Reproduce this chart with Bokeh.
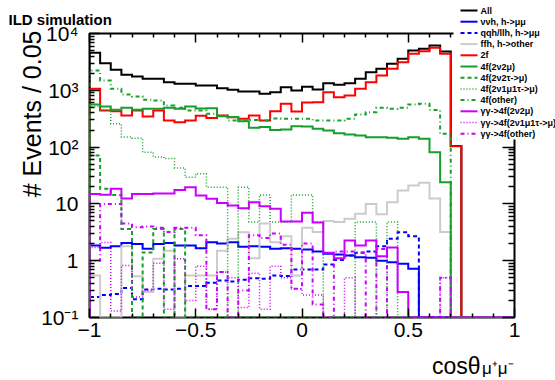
import numpy as np
from bokeh.plotting import figure
from bokeh.models import (FixedTicker, LinearAxis, LogAxis, Range1d, LinearScale)
from bokeh.core.properties import value
from bokeh.embed import file_html
from bokeh.resources import INLINE

# ---------------- data (events per 0.05 bin, 40 bins from -1 to 1) ----------------
x_lo, x_hi, n_bins = -1.0, 1.0, 40

all_ev = [4570, 3000, 2300, 1875, 1750, 1590, 1590, 1390, 1300, 1300,
          1215, 1215, 1090, 1020, 953, 953, 868, 926, 1135, 990,
          1150, 1033, 1333, 1250, 1333, 1590, 2085, 2390, 2930, 3590,
          5020, 5380, 6150, 4820, 105, 0, 0, 0, 0, 0]
nnh_mumu = [1.85, 1.69, 1.8, 2.04, 1.96, 1.62, 1.96, 2.04, 1.85, 1.85,
            1.66, 2.12, 2.0, 2.12, 1.76, 1.8, 1.76, 1.62, 1.66, 1.62,
            1.57, 1.45, 1.32, 1.28, 1.24, 1.15, 1.13, 1.0, 0.94, 0.88,
            0.72, 0, 0, 0, 0, 0, 0, 0, 0, 0]
qqh_llh_mumu = [0.23, 0.25, 0.26, 0.33, 0.21, 0.31, 0.32, 0.31, 0.32, 0.36,
                0.36, 0.41, 0.45, 0.43, 0.46, 0.49, 0.48, 0.55, 0.54, 0.70,
                0.70, 0.70, 0.86, 1.03, 1.23, 1.38, 1.45, 1.8, 2.43, 3.18,
                2.7, 0, 0, 0, 0, 0, 0, 0, 0, 0]
ffh_other = [0.55, 0, 0, 1.8, 0.53, 0.28, 1.08, 1.5, 0, 0.55,
             0.55, 0.55, 1.5, 2.43, 3.18, 1.1, 4.5, 2.12, 2.7, 0.55,
             3.8, 3.2, 5.0, 4.8, 5.5, 6.7, 10.0, 6.6, 10.7, 17.2,
             21.0, 23.5, 12.5, 3.2, 0, 0, 0, 0, 0, 0]
two_f = [1062, 441, 428, 360, 441, 346, 441, 294, 274, 294,
         355, 326, 360, 336, 315, 360, 294, 426, 580, 424,
         610, 617, 926, 757, 810, 1062, 1390, 1824, 2390, 3130,
         4400, 4880, 5600, 4400, 104, 0, 0, 0, 0, 0]
f4_2n2mu = [562, 519, 454, 492, 454, 472, 472, 492, 472, 519,
            480, 485, 350, 340, 285, 220, 225, 200, 205, 232,
            231, 210, 196, 176, 167, 160, 149, 149, 146, 140,
            149, 140, 81, 24, 0, 0, 0, 0, 0, 0]
f4_2n2tau = [71, 18.4, 14.4, 3.6, 0, 1.4, 3.6, 0, 3.6, 0,
             0, 0, 0, 0, 0, 0, 0, 0, 0, 0,
             0, 0, 0, 0, 0, 0, 0, 0, 0, 0,
             0, 0, 0, 0, 0, 0, 0, 0, 0, 0]
f4_2n1mu1tau = [520, 450, 257, 150, 143, 81, 67, 63, 43, 29.5,
                34, 19.7, 19.7, 0, 19.7, 4.8, 14.4, 4.8, 4.8, 14.4,
                14.4, 4.8, 0, 0, 0, 4.8, 4.8, 0, 4.8, 0,
                0, 0, 0, 0, 0, 0, 0, 0, 0, 0]
f4_other = [2230, 1490, 1062, 843, 778, 679, 661, 540, 491, 441,
            441, 385, 360, 294, 294, 300, 294, 320, 315, 315,
            315, 294, 294, 294, 315, 375, 412, 491, 472, 491,
            560, 578, 450, 171, 0, 0, 0, 0, 0, 0]
gg_2n2mu = [15.0, 14.5, 18.4, 12.5, 15.0, 15.0, 15.2, 15.2, 17.5, 19.7,
            14.1, 12.3, 10.4, 9.4, 8.4, 10.7, 9.1, 8.2, 4.9, 4.9,
            7.0, 4.7, 1.38, 1.1, 2.27, 1.85, 2.27, 1.2, 1.7, 0.28,
            0, 0, 0, 0, 0, 0, 0, 0, 0, 0]
gg_2n1mu1tau = [1.7, 2.1, 0.13, 0.82, 0.23, 0.3, 0.9, 0.14, 1.08, 0.2,
                0.8, 0.14, 0.63, 0.5, 0.15, 0.6, 0.14, 0.8, 0.5, 0.32,
                0.25, 0.25, 0, 0, 0.5, 0, 0, 0, 0, 0,
                0, 0, 0, 0.5, 0, 0, 0, 0, 0, 0]
gg_other = [1.0, 10, 10, 4.5, 3.9, 4.0, 3.8, 3.2, 3.8, 3.8,
            2.8, 0.14, 0.63, 0, 0.3, 2.8, 2.5, 3.0, 1.9, 0.32,
            2.0, 0.17, 0, 1.45, 1.45, 1.4, 0, 1.6, 0, 0,
            0, 0, 0, 0.5, 0, 0, 0, 0, 0, 0]

series_labels = ["All", "ννh, h->μμ", "qqh/llh, h->μμ", "ffh, h->other", "2f",
                 "4f(2ν2μ)", "4f(2ν2τ->μ)", "4f(2ν1μ1τ->μ)", "4f(other)",
                 "γγ->4f(2ν2μ)", "γγ->4f(2ν1μ1τ->μ)", "γγ->4f(other)"]

x_major = [-1, -0.5, 0, 0.5, 1]
x_major_labels = ["−1", "−0.5", "0", "0.5", "1"]
y_major = [0.1, 1, 10, 100, 1000, 10000]
y_major_labels = ["10⁻¹", "1", "10", "10²", "10³", "10⁴"]

# ---------------- styling ----------------
BLACK, BLUE, GREY, RED = "#000000", "#0000ff", "#cccccc", "#ff0000"
GREEN, VIOLET = "#14a02a", "#cc00ff"
FONT = "Liberation Sans"

styles = [
    (all_ev, BLACK, "solid", 2),
    (nnh_mumu, BLUE, "solid", 2),
    (qqh_llh_mumu, BLUE, "4 3", 2),
    (ffh_other, GREY, "solid", 2),
    (two_f, RED, "solid", 2),
    (f4_2n2mu, GREEN, "solid", 2),
    (f4_2n2tau, GREEN, "4 3", 2),
    (f4_2n1mu1tau, GREEN, "1 2", 1.5),
    (f4_other, GREEN, "4 3 1 3", 2),
    (gg_2n2mu, VIOLET, "solid", 2),
    (gg_2n1mu1tau, VIOLET, "1 2", 1.5),
    (gg_other, VIOLET, "4 3 1 3", 2),
]

y_lo, y_hi = 0.1, 1e4
edges = np.linspace(x_lo, x_hi, n_bins + 1)

# canvas layout of the frame (pixels)
FL, FR, FT, FB = 89, 514, 33, 317
W, H = 555, 380

p = figure(width=W, height=H, x_range=Range1d(x_lo, x_hi),
           y_range=Range1d(y_lo, y_hi), y_axis_type="log",
           output_backend="svg", toolbar_location=None,
           min_border_left=FL, min_border_right=W - FR,
           min_border_top=FT, min_border_bottom=H - FB)
# pixel coordinate system for texts and legend (same as canvas pixels)
p.extra_x_ranges = {"px": Range1d(FL, FR)}
p.extra_y_ranges = {"px": Range1d(FB, FT)}
p.extra_x_scales = {"px": LinearScale()}
p.extra_y_scales = {"px": LinearScale()}

p.xgrid.visible = False
p.ygrid.visible = False
p.outline_line_color = "black"
p.outline_line_width = 2
p.background_fill_color = "white"
p.border_fill_color = "white"


def outline(vals):
    v = np.asarray(vals, dtype=float)
    v = np.where(v > 0, v, y_lo)
    xs = np.repeat(edges, 2)
    ys = np.concatenate([[y_lo], np.repeat(v, 2), [y_lo]])
    return xs, ys


for vals, color, dash, lw in styles:
    xs, ys = outline(vals)
    p.line(xs, ys, line_color=color, line_dash=dash, line_width=lw,
           line_join="miter")

x_minor = [round(v, 2) for v in np.arange(-0.9, 1.0, 0.1) if abs(round(v * 2) - v * 2) > 1e-6]
y_minor = [k * 10.0 ** d for d in range(-1, 4) for k in range(2, 10)]
xt = FixedTicker(ticks=x_major, minor_ticks=x_minor)
yt = FixedTicker(ticks=y_major, minor_ticks=y_minor)


def style_axis(ax, ticker, tin, tmin, labels=None):
    ax.ticker = ticker
    ax.axis_line_color = None
    ax.major_tick_in = tin
    ax.major_tick_out = 0
    ax.minor_tick_in = tmin
    ax.minor_tick_out = 0
    ax.major_tick_line_color = "black"
    ax.minor_tick_line_color = "black"
    ax.major_tick_line_width = 1.5
    ax.minor_tick_line_width = 1.5
    if labels is None:
        ax.major_label_text_color = None
        ax.major_label_text_font_size = "8px"
        ax.major_label_standoff = 0
    else:
        ax.major_label_overrides = labels
        ax.major_label_text_font = FONT
        ax.major_label_text_font_size = "21px"
        ax.major_label_text_color = "black"


style_axis(p.xaxis[0], xt, 9, 4, dict(zip(x_major, x_major_labels)))
p.xaxis[0].major_label_standoff = 5
style_axis(p.yaxis[0], yt, 10, 5, dict(zip(y_major, y_major_labels)))
p.yaxis[0].major_label_standoff = 11

top_ax = LinearAxis()
style_axis(top_ax, xt, 9, 4)
p.add_layout(top_ax, "above")
right_ax = LogAxis()
style_axis(right_ax, yt, 12, 6)
p.add_layout(right_ax, "right")

PX = dict(x_range_name="px", y_range_name="px", level="overlay")


def put_text(x, y, txt, size, align="left", baseline="alphabetic",
             style="normal", angle=0.0):
    p.text(x=[x], y=[y], text=[txt], text_font=value(FONT),
           text_font_size=value(size), text_font_style=value(style),
           text_align=value(align), text_baseline=value(baseline),
           angle=angle, text_color="black", **PX)


put_text(8, 19, "ILD simulation", "15px", style="bold")
put_text(31, 30, "# Events / 0.05", "25px", align="right", angle=float(np.pi / 2))
put_text(480, 365, "cosθ", "23px", align="right")
put_text(513, 368, "μ⁺μ⁻", "17px", align="right")

# ---------------- legend (white box over the frame corner, pixel coordinates) ----------------
LEG_BOX_L, LEG_BOX_B = 453, 139
LEG_X0, LEG_X1, LEG_TX = 460, 477, 480
LEG_Y0, LEG_DY = 10, 11.2
p.quad(left=[LEG_BOX_L], right=[W], top=[0], bottom=[LEG_BOX_B],
       fill_color="white", line_color=None, **PX)
for i, ((vals, color, dash, lw), lab) in enumerate(zip(styles, series_labels)):
    yy = LEG_Y0 + i * LEG_DY
    p.line([LEG_X0, LEG_X1], [yy, yy], line_color=color, line_dash=dash,
           line_width=lw, **PX)
    put_text(LEG_TX, yy, lab, "9px", baseline="middle", style="bold")

open("out.html", "w").write(file_html(p, INLINE))
